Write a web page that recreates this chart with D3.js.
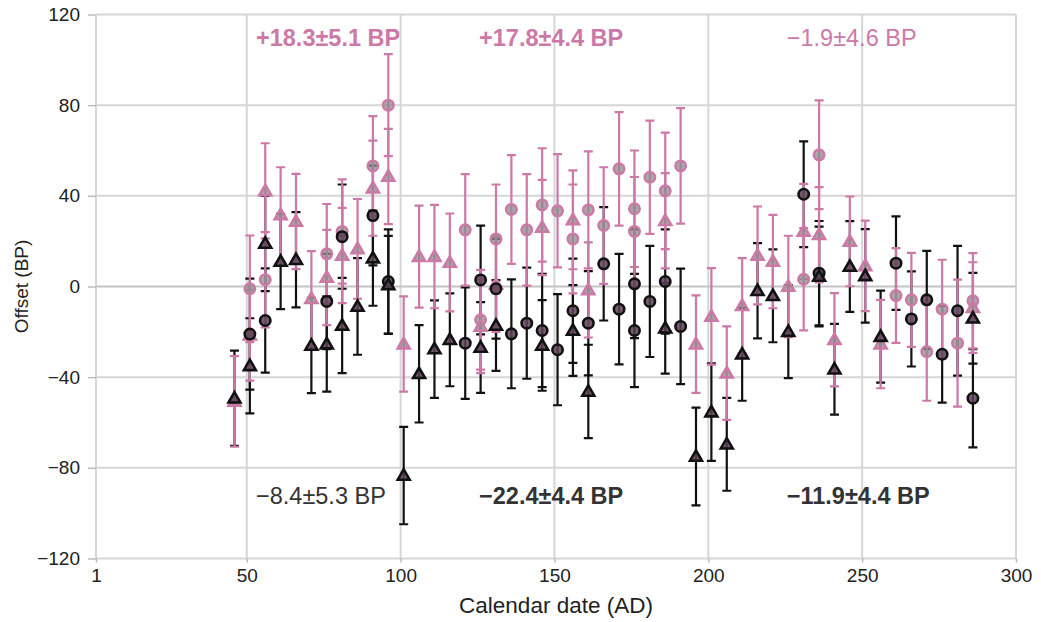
<!DOCTYPE html>
<html><head><meta charset="utf-8">
<script src="https://cdn.jsdelivr.net/npm/d3@7"></script>
<style>body{margin:0;background:#fff}svg{display:block}text{font-family:"Liberation Sans",Arial,sans-serif}</style>
</head><body><svg id="c" width="1041" height="622"></svg>
<script>
// Data: [year, offset, error]
const pinkCircles = [[51,-1,23.5],[56,3,21],[76,14.4,22],[81,24.3,23],[91,53.2,22],[96,80,22.5],[121,25,24.6],[126,-14.7,22],[131,21,24],[136,34,24],[141,25,24.6],[146,36,25],[151,33.4,25],[156,21,24],[161,33.8,25.8],[166,26.9,25.7],[171,51.9,25],[176,34.3,25.7],[176,24.3,24],[181,48.2,25],[186,42.2,25.7],[191,53.2,25.5],[231,3.2,22.6],[236,58.1,24],[261,-4,20.9],[266,-5.9,20.7],[271,-28.7,21.7],[276,-10,21.8],[281,-25,28],[286,-6.3,21]];
const pinkTriangles = [[46,-50.7,20],[51,-21.5,20],[56,42.2,21],[61,31.6,21],[66,28.7,21],[71,-5.4,21],[76,4,21],[81,13.7,21],[86,16.6,22],[91,43.4,21],[96,48.5,21],[101,-25.4,21],[106,13.2,22.5],[111,13.2,22.8],[116,10.6,21.6],[126,-17.6,20.6],[131,1,21],[146,26,21],[156,29.4,21.8],[161,-1.5,21],[186,29,21],[196,-25.4,21.5],[201,-13.2,21.3],[206,-38.2,20.6],[211,-8.5,21],[216,13.7,21.6],[221,11,20.6],[226,0,22.4],[231,24.3,21],[236,22.8,21],[241,-23.5,20.6],[246,19.9,19.8],[251,9.1,20],[256,-25.4,19.5],[286,-9.3,20]];
const blackCircles = [[51,-21,24.5],[56,-15,23],[76,-6.6,21],[81,22,23],[91,31.3,22],[96,2.2,23],[121,-25,24.6],[126,2.9,24],[131,-1,22],[136,-20.9,24],[141,-16.2,24.5],[146,-19.4,25],[151,-27.9,24.5],[156,-10.7,23],[161,-16.2,23],[166,10,25],[171,-10,24.4],[176,1.2,24],[176,-19.4,25],[181,-6.6,24.5],[186,2.2,23],[191,-17.6,25.5],[231,40.7,23.3],[236,5.9,23],[261,10.3,20.6],[266,-14.3,21],[271,-5.9,21.6],[276,-29.9,21.3],[281,-10.7,28.6],[286,-49.3,21.7]];
const blackTriangles = [[46,-49.3,21],[51,-35,21],[56,19,21],[61,11,21],[66,11.8,21],[71,-26,21],[76,-25.4,21],[81,-17.2,21],[86,-8.8,21.3],[91,12.5,21],[96,0.7,21.6],[101,-83.4,21.5],[106,-38.5,21.5],[111,-27.6,21.5],[116,-23.5,20.5],[126,-26.9,20],[131,-17.2,20],[146,-26,20],[156,-19.4,20],[161,-46.3,20.6],[186,-18.4,20],[196,-75,21.6],[201,-55.4,21.5],[206,-69.6,20.5],[211,-29.9,20.5],[216,-1.9,21],[221,-4.1,20.5],[226,-19.9,20.5],[236,4.4,22],[241,-36.5,20],[246,8.8,20],[251,4.7,20.6],[256,-22.1,20.3],[286,-14,20]];
const xTicks = [1,50,100,150,200,250,300];
const yTicks = [-120,-80,-40,0,40,80,120];
const annotations = [
  {x:53,y:106,text:"+18.3\u00b15.1 BP",color:"#cc79a7",bold:true},
  {x:125.5,y:106,text:"+17.8\u00b14.4 BP",color:"#cc79a7",bold:true},
  {x:225.5,y:106,text:"\u22121.9\u00b14.6 BP",color:"#cc79a7",bold:false},
  {x:53,y:-96,text:"\u22128.4\u00b15.3 BP",color:"#333",bold:false},
  {x:125.5,y:-96,text:"\u221222.4\u00b14.4 BP",color:"#333",bold:true},
  {x:225.5,y:-96,text:"\u221211.9\u00b14.4 BP",color:"#333",bold:true}
];

const PINK = "#cc79a7";
const svg = d3.select("#c");
const x = d3.scaleLinear().domain([1,300]).range([96,1016]);
const y = d3.scaleLinear().domain([-120,120]).range([558.5,14.5]);

// grid
const g = svg.append("g");
g.selectAll(".gx").data(xTicks).join("line")
  .attr("x1",d=>x(d)).attr("x2",d=>x(d)).attr("y1",y(-120)).attr("y2",y(120))
  .attr("stroke","#d6d6d6").attr("stroke-width",2);
g.selectAll(".gy").data(yTicks).join("line")
  .attr("x1",x(1)).attr("x2",x(300)).attr("y1",d=>y(d)).attr("y2",d=>y(d))
  .attr("stroke",d=>d===0?"#c4c4c4":"#d6d6d6").attr("stroke-width",2);

// axes
const xa = svg.append("g").attr("transform",`translate(0,${y(-120)})`)
  .call(d3.axisBottom(x).tickValues(xTicks).tickFormat(d3.format("d")).tickSize(4).tickPadding(3));
const ya = svg.append("g").attr("transform",`translate(${x(1)},0)`)
  .call(d3.axisLeft(y).tickValues(yTicks).tickFormat(d=>d<0?"\u2212"+Math.abs(d):d).tickSize(4).tickPadding(12));
[xa,ya].forEach(a=>{
  a.select(".domain").remove();
  a.selectAll(".tick line").attr("stroke","#bbb").attr("stroke-width",1.5);
  a.selectAll(".tick text").attr("fill","#222").style("font-size","19px");
});
ya.selectAll(".tick line").attr("x2",-8);
xa.selectAll(".tick text").attr("dy","0.85em");

svg.append("text").attr("x",(x(1)+x(300))/2).attr("y",613).attr("text-anchor","middle")
  .attr("fill","#222").style("font-size","22.5px").text("Calendar date (AD)");
svg.append("text").attr("transform",`translate(28,${y(0)}) rotate(-90)`).attr("text-anchor","middle")
  .attr("fill","#222").style("font-size","19px").text("Offset (BP)");

// error bars
function bars(data,color){
  const eg = svg.append("g").attr("stroke",color).attr("stroke-width",2.2).attr("fill","none");
  eg.selectAll("path").data(data).join("path")
    .attr("d",d=>{
      const cx=x(d[0]), t=y(d[1]+d[2]), b=y(d[1]-d[2]);
      return `M${cx},${t}V${b}M${cx-4.5},${t}H${cx+4.5}M${cx-4.5},${b}H${cx+4.5}`;
    });
}
bars(blackCircles,"#111");
bars(blackTriangles,"#111");
bars(pinkCircles,PINK);
bars(pinkTriangles,PINK);

function circles(data,stroke,fill){
  svg.append("g").selectAll("circle").data(data).join("circle")
    .attr("cx",d=>x(d[0])).attr("cy",d=>y(d[1])).attr("r",5.2)
    .attr("fill",fill).attr("stroke",stroke).attr("stroke-width",2.6);
}
function tris(data,stroke,fill){
  const sym = d3.symbol().type(d3.symbolTriangle).size(62);
  svg.append("g").selectAll("path").data(data).join("path")
    .attr("transform",d=>`translate(${x(d[0])},${y(d[1])+0.8})`).attr("d",sym)
    .attr("fill",fill).attr("stroke",stroke).attr("stroke-width",2.6).attr("stroke-linejoin","miter");
}
circles(pinkCircles,PINK,"rgba(140,140,140,0.75)");
tris(pinkTriangles,PINK,"rgba(140,140,140,0.75)");
circles(blackCircles,"#111","rgba(90,65,85,0.85)");
tris(blackTriangles,"#111","rgba(90,65,85,0.85)");

// annotations
svg.append("g").selectAll("text").data(annotations).join("text")
  .attr("x",d=>x(d.x)).attr("y",d=>y(d.y)).attr("fill",d=>d.color)
  .style("font-size","23.5px").style("font-weight",d=>d.bold?"bold":"normal")
  .text(d=>d.text);
</script></body></html>
